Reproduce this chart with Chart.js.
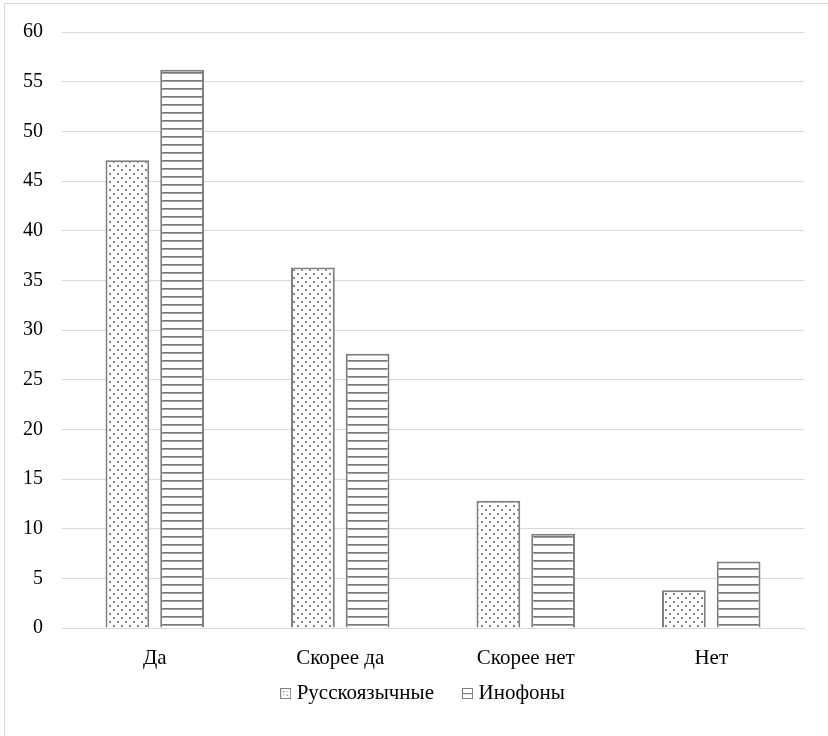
<!DOCTYPE html>
<html>
<head>
<meta charset="utf-8">
<script src="https://cdn.jsdelivr.net/npm/chart.js@4/dist/chart.umd.min.js"></script>
<style>
  html, body { margin: 0; padding: 0; background: #fff; }
  #wrap { position: absolute; left: 0; top: 0; width: 828px; height: 736px; }
  #frame { position: absolute; left: 4px; top: 3px; width: 830px; height: 740px;
           border-left: 1px solid #d9d9d9; border-top: 1px solid #d9d9d9; pointer-events: none; }
</style>
</head>
<body>
<div id="wrap">
  <canvas id="c" width="828" height="736"></canvas>
  <div id="frame"></div>
</div>
<script>
const categories = ['Да', 'Скорее да', 'Скорее нет', 'Нет'];
const russianSpeakers = [47.1, 36.3, 12.8, 3.8];
const foreignSpeakers = [56.2, 27.6, 9.5, 6.7];
const seriesNames = ['Русскоязычные', 'Инофоны'];
const yTicks = [0, 5, 10, 15, 20, 25, 30, 35, 40, 45, 50, 55, 60];

const FONT = '"Liberation Serif", "Times New Roman", serif';
const EDGE = '#7f7f7f';
const LEGEND_GAP = '\u00A0\u00A0\u00A0\u00A0';

// dotted fill
function dotPattern() {
  const t = document.createElement('canvas');
  t.width = 8; t.height = 8;
  const g = t.getContext('2d');
  g.fillStyle = '#fff'; g.fillRect(0, 0, 8, 8);
  g.fillStyle = '#858585';
  g.fillRect(1, 1, 2, 2);
  g.fillRect(5, 5, 2, 2);
  return g.createPattern(t, 'repeat');
}
// horizontal-line fill
function stripePattern() {
  const t = document.createElement('canvas');
  t.width = 8; t.height = 8;
  const g = t.getContext('2d');
  g.fillStyle = '#fff'; g.fillRect(0, 0, 8, 8);
  g.fillStyle = '#7a7a7a';
  g.fillRect(0, 0, 8, 1.7);
  return g.createPattern(t, 'repeat');
}
// small legend swatches
function swatch(kind) {
  const t = document.createElement('canvas');
  t.width = 11; t.height = 11;
  const g = t.getContext('2d');
  g.fillStyle = '#fff'; g.fillRect(0, 0, 11, 11);
  g.fillStyle = '#808080';
  if (kind === 'dots') {
    g.fillRect(3, 3, 1.4, 1.4); g.fillRect(6.5, 6.5, 1.4, 1.4);
    g.fillRect(6.5, 3, 1, 1); g.fillRect(3, 6.5, 1, 1);
  } else {
    g.fillRect(1, 5, 9, 1.2);
  }
  g.strokeStyle = EDGE; g.lineWidth = 1;
  g.strokeRect(0.5, 0.5, 10, 10);
  return t;
}
const swatches = [swatch('dots'), swatch('lines')];

// nudge the legend a little left of the plot centre
const legendShift = {
  id: 'legendShift',
  afterLayout(chart) {
    if (chart.legend) { chart.legend.left -= 8; chart.legend.right -= 8; }
  }
};

const ctx = document.getElementById('c').getContext('2d');
new Chart(ctx, {
  type: 'bar',
  data: {
    labels: categories,
    datasets: [
      { label: seriesNames[0], data: russianSpeakers, backgroundColor: dotPattern(),
        borderColor: EDGE, borderWidth: 2, borderSkipped: 'bottom' },
      { label: seriesNames[1], data: foreignSpeakers, backgroundColor: stripePattern(),
        borderColor: EDGE, borderWidth: 2, borderSkipped: 'bottom' }
    ]
  },
  plugins: [legendShift],
  options: {
    responsive: false,
    animation: false,
    layout: { padding: { left: 0, top: 32, right: 24, bottom: 22 } },
    datasets: { bar: { categoryPercentage: 0.59, barPercentage: 0.8 } },
    plugins: {
      tooltip: { enabled: false },
      legend: {
        position: 'bottom',
        fullSize: false,
        labels: {
          font: { family: FONT, size: 21 },
          color: '#000',
          usePointStyle: true,
          pointStyleWidth: 1,
          boxHeight: 11,
          padding: 12,
          generateLabels(chart) {
            const n = chart.data.datasets.length;
            return chart.data.datasets.map((ds, i) => ({
              text: i < n - 1 ? ds.label + LEGEND_GAP : ds.label,
              pointStyle: swatches[i], fillStyle: '#fff',
              strokeStyle: EDGE, lineWidth: 1, datasetIndex: i, fontColor: '#000'
            }));
          }
        }
      }
    },
    scales: {
      x: {
        grid: { display: false, drawTicks: false },
        border: { display: true, color: '#d9d9d9', width: 1 },
        ticks: { font: { family: FONT, size: 21 }, color: '#000', padding: 18 },
        afterFit(s) { s.height = 43; }
      },
      y: {
        min: 0, max: 60,
        afterBuildTicks(s) { s.ticks = yTicks.map(v => ({ value: v })); },
        grid: { color: '#d9d9d9', lineWidth: 1, drawTicks: false },
        border: { display: false },
        ticks: { font: { family: FONT, size: 20 }, color: '#000', padding: 19 },
        afterFit(s) { s.width = 62; }
      }
    }
  }
});
</script>
</body>
</html>
